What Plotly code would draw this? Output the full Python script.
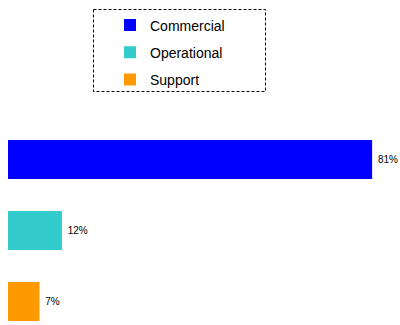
import plotly.graph_objects as go

categories = ["Commercial", "Operational", "Support"]
values = [81, 12, 7]
labels = ["81%", "12%", "7%"]
colors = ["#0000FF", "#33CCCC", "#FF9900"]
positions = [2, 1, 0]

fig = go.Figure()
for cat, val, lab, col, pos in zip(categories, values, labels, colors, positions):
    fig.add_trace(go.Bar(
        x=[val], y=[pos], orientation="h", name=cat,
        marker=dict(color=col, line=dict(width=0)),
        width=0.55, text=[lab], texttemplate="\u00a0%{text}", textposition="outside",
        textfont=dict(size=10, color="black", family="Liberation Sans"),
        cliponaxis=False, legendgroup=cat, hoverinfo="skip",
    ))

W, H = 400, 325
ml, mr, mt, mb = 8, 0, 100, 0
pw, ph = W - ml - mr, H - mt - mb

def px2paper(x, y):
    return (x - ml) / pw, (H - mb - y) / ph

x0, y0 = px2paper(93.5, 9.5)
x1, y1 = px2paper(265.5, 91.5)
lx, ly = px2paper(110, 9.5)

fig.update_layout(
    width=W, height=H,
    margin=dict(l=ml, r=mr, t=mt, b=mb),
    paper_bgcolor="white", plot_bgcolor="white",
    barmode="overlay",
    showlegend=True,
    legend=dict(x=lx, y=ly, xanchor="left", yanchor="top",
                font=dict(family="Liberation Sans", size=14, color="black"),
                tracegroupgap=6, traceorder="grouped", bgcolor="rgba(0,0,0,0)"),
    xaxis=dict(range=[0, 87.2], visible=False, fixedrange=True),
    yaxis=dict(range=[-0.331, 2.838], visible=False, fixedrange=True),
    shapes=[dict(type="rect", xref="paper", yref="paper", x0=x0, y0=y0, x1=x1, y1=y1,
                 line=dict(color="black", width=1, dash="3px,2px"), fillcolor="rgba(0,0,0,0)")],
)

fig.write_html("out.html", config={"displayModeBar": False},
               post_script="document.body.style.margin='0px';")
